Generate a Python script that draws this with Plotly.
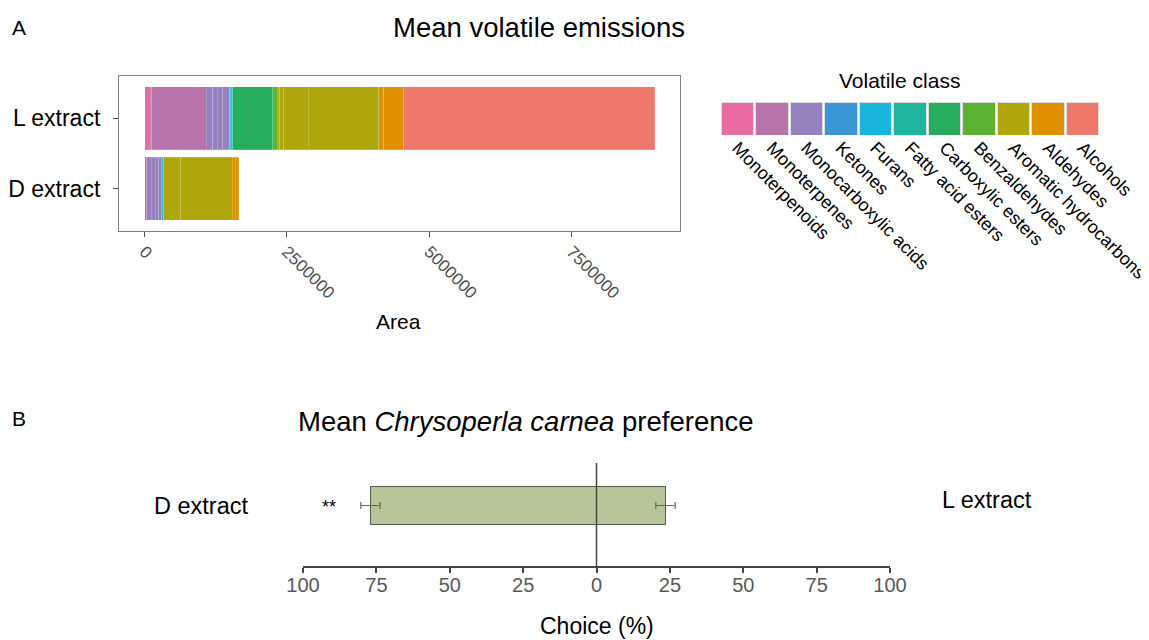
import plotly.graph_objects as go
import numpy as np

# ---------------- data ----------------
classes = ["Monoterpenoids", "Monoterpenes", "Monocarboxylic acids", "Ketones", "Furans",
           "Fatty acid esters", "Carboxylic esters", "Benzaldehydes",
           "Aromatic hydrocarbons", "Aldehydes", "Alcohols"]
class_colors = ["#E96CA3", "#B873AB", "#9581BD", "#3A96D4", "#1AB5DD", "#20B59F",
                "#25AD5C", "#5BB332", "#AEA60B", "#DE9000", "#EC776A"]

# per-compound mean areas (stacked in class order)
l_compound_class = ["Monoterpenoids", "Monoterpenes", "Monoterpenes",
                    "Monocarboxylic acids", "Monocarboxylic acids", "Monocarboxylic acids",
                    "Monocarboxylic acids", "Ketones", "Furans", "Fatty acid esters",
                    "Carboxylic esters", "Benzaldehydes",
                    "Aromatic hydrocarbons", "Aromatic hydrocarbons", "Aromatic hydrocarbons",
                    "Aromatic hydrocarbons", "Aldehydes", "Aldehydes", "Alcohols"]
l_compound_area = [100000, 29000, 957000,
                   112000, 76000, 100000, 123000, 12000, 18000, 23000,
                   704000, 76000,
                   41000, 76000, 428000, 1241000, 88000, 352000, 4400000]

d_compound_class = ["Monoterpenes", "Monocarboxylic acids", "Monocarboxylic acids",
                    "Monocarboxylic acids", "Monocarboxylic acids", "Furans",
                    "Fatty acid esters", "Aromatic hydrocarbons", "Aromatic hydrocarbons",
                    "Aldehydes", "Aldehydes"]
d_compound_area = [41000, 76000, 70000, 59000, 59000, 20000, 15000,
                   299000, 898000, 59000, 59000]

area_ticks = [0, 2500000, 5000000, 7500000]
area_tick_text = ["0", "2500000", "5000000", "7500000"]

# preference test
extracts = ["D extract", "L extract"]
choice_mean = [77.0, 23.5]   # % choosing D / L
choice_se = [3.3, 3.3]
choice_ticks = [-100, -75, -50, -25, 0, 25, 50, 75, 100]
choice_tick_text = ["100", "75", "50", "25", "0", "25", "50", "75", "100"]

# ---------------- helpers ----------------
OFF = 8                      # page body margin
FW, FH = 1149 - OFF, 640 - OFF

def px(x):
    return (x - OFF) / FW

def py(y):
    return 1 - (y - OFF) / FH

color_of = dict(zip(classes, class_colors))
FONT = "Liberation Sans, Arial, sans-serif"

fig = go.Figure()

# ---- Panel A: stacked bars ----
for label, cls_list, area_list in [("L extract", l_compound_class, l_compound_area),
                                   ("D extract", d_compound_class, d_compound_area)]:
    for c, a in zip(cls_list, area_list):
        fig.add_trace(go.Bar(
            y=[label], x=[a], orientation="h", width=0.9,
            marker=dict(color=color_of[c], line=dict(color="rgba(255,255,255,0.3)", width=0.6)),
            xaxis="x", yaxis="y", showlegend=False, name=c,
            hovertemplate=c + ": %{x}<extra></extra>"))

max_total = max(sum(l_compound_area), sum(d_compound_area))

# ---- legend strip as a categorical bar chart ----
fig.add_trace(go.Bar(
    x=classes, y=[1] * len(classes), marker=dict(color=class_colors,
                                                  line=dict(color="#DDDDDD", width=1)),
    width=0.94, xaxis="x3", yaxis="y3", showlegend=False, hoverinfo="x"))

# ---- Panel B: preference ----
fig.add_trace(go.Bar(
    y=[0], x=[choice_mean[0] + choice_mean[1]], base=[-choice_mean[0]], orientation="h",
    width=1.0, marker=dict(color="#B7C698", line=dict(color="#555555", width=1.5)),
    xaxis="x2", yaxis="y2", showlegend=False, hoverinfo="skip"))
fig.add_trace(go.Scatter(
    x=[-choice_mean[0], choice_mean[1]], y=[0, 0], mode="markers",
    marker=dict(size=1, color="rgba(0,0,0,0)"),
    error_x=dict(type="data", array=choice_se, color="#666666", thickness=1.2, width=3.5),
    xaxis="x2", yaxis="y2", showlegend=False, hoverinfo="skip"))

fig.update_layout(
    width=FW, height=FH, margin=dict(l=0, r=0, t=0, b=0, autoexpand=False),
    paper_bgcolor="white", plot_bgcolor="white",
    barmode="stack", bargap=0.06,
    font=dict(family=FONT, color="black"),
    xaxis=dict(domain=[px(119), px(680)], range=[-0.05 * max_total, 1.05 * max_total],
               anchor="y", tickvals=area_ticks, ticktext=area_tick_text, tickangle=45,
               tickfont=dict(size=17, color="#4D4D4D"), ticks="outside", ticklen=5,
               ticklabelstandoff=-2,
               tickcolor="#4D4D4D", showline=True, mirror=True, linecolor="#7F7F7F",
               linewidth=1.2, showgrid=False, zeroline=False, automargin=False),
    yaxis=dict(domain=[py(231), py(76)], range=[-0.6, 1.6], anchor="x",
               type="category", categoryorder="array", categoryarray=extracts,
               tickfont=dict(size=23, color="black"), ticks="outside", ticklen=5,
               ticklabelstandoff=8,
               tickcolor="#4D4D4D", showline=True, mirror=True, linecolor="#7F7F7F",
               linewidth=1.2, showgrid=False, zeroline=False, automargin=False),
    xaxis2=dict(domain=[px(303), px(890)], range=[-100, 100], anchor="y2",
                tickvals=choice_ticks, ticktext=choice_tick_text,
                tickfont=dict(size=20, color="#595959"), ticks="outside", ticklen=5,
                ticklabelstandoff=-5,
                tickcolor="#444444", tickwidth=1.5, showline=True, linecolor="#444444",
                linewidth=1.5, showgrid=False, zeroline=False, automargin=False),
    yaxis2=dict(domain=[py(566), py(463)], range=[-1.61, 1.13], anchor="x2", visible=False,
                automargin=False),
    xaxis3=dict(domain=[px(720), px(1100)], range=[-0.5, 10.5], anchor="y3",
                type="category", tickangle=45, tickfont=dict(size=18, color="black"),
                ticklabelstandoff=-2,
                ticks="", showline=False, showgrid=False, zeroline=False, automargin=False),
    yaxis3=dict(domain=[py(135), py(102)], range=[0, 1], anchor="x3", visible=False,
                automargin=False),
)

# zero line in panel B
fig.add_shape(type="line", xref="x2", yref="y2 domain", x0=0, x1=0, y0=0, y1=1,
              line=dict(color="#444444", width=1.5), layer="above")

ann = [
    dict(text="A", x=px(19), y=py(28), size=21),
    dict(text="Mean volatile emissions", x=px(539), y=py(27), size=27.5),
    dict(text="Area", x=px(398), y=py(321), size=21),
    dict(text="Volatile class", x=px(899), y=py(81), size=21),
    dict(text="B", x=px(19), y=py(418), size=21),
    dict(text="Mean <i>Chrysoperla carnea</i> preference", x=px(526), y=py(421), size=27.5),
    dict(text="D extract", x=px(201), y=py(506), size=23.5),
    dict(text="L extract", x=px(987), y=py(500), size=23.5),
    dict(text="**", x=px(329), y=py(507), size=18),
    dict(text="Choice (%)", x=px(597), y=py(626), size=23),
]
for a in ann:
    fig.add_annotation(text=a["text"], x=a["x"], y=a["y"], xref="paper", yref="paper",
                       showarrow=False, xanchor="center", yanchor="middle",
                       font=dict(size=a["size"], color="black", family=FONT))

fig.write_html("out.html")
